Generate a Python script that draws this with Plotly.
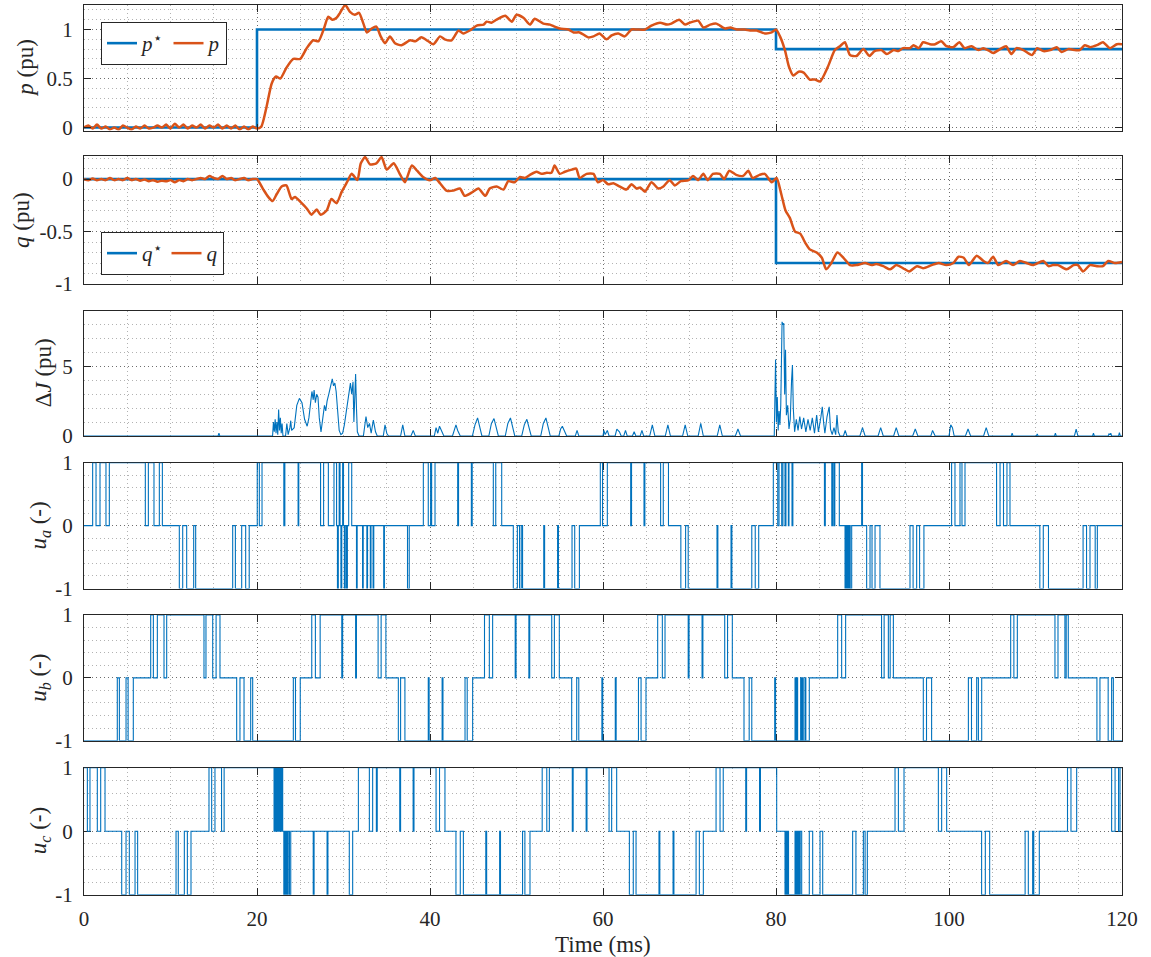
import plotly.graph_objects as go

FONT = "Liberation Serif, DejaVu Serif, serif"
BLUE = "#0072BD"
ORANGE = "#D95319"
AX = "#262626"

# ---------------- data ----------------
x_tickvals = [0, 20, 40, 60, 80, 100, 120]
x_ticktext = ["0", "20", "40", "60", "80", "100", "120"]

pref_t = [0, 20, 80, 120]
pref_v = [0, 1, 0.8, 0.8]
qref_t = [0, 80, 120]
qref_v = [0, -0.8, -0.8]

p_t = [0, 0.5, 1.0, 1.5, 2.0, 2.5, 3.0, 3.5, 4.0, 4.5, 5.0, 5.5, 6.0, 6.5, 7.0, 7.5, 8.0, 8.5, 9.0, 9.5,
       10.0, 10.5, 11.0, 11.5, 12.0, 12.5, 13.0, 13.5, 14.0, 14.5, 15.0, 15.5, 16.0, 16.5, 17.0, 17.5, 18.0,
       18.5, 19.0, 19.5, 20.0, 20.5, 21.1, 21.7, 22.2, 22.7, 23.4, 24.2, 25.0, 25.75, 26.5, 27.1, 27.7, 28.24,
       28.7, 29.2, 29.6, 30.2, 30.75, 31.3, 31.8, 32.3, 32.7, 33.26, 33.8, 34.3, 34.8, 35.37, 35.95, 36.7,
       37.7, 38.3, 39.0, 39.8, 40.4, 41.16, 41.7, 42.5, 43.3, 43.85, 44.6, 45.4, 46.2, 46.55, 47.1, 47.7,
       48.7, 49.45, 50.0, 50.8, 51.56, 52.1, 53.1, 53.87, 54.4, 55.0, 56.0, 56.6, 57.3, 58.3, 58.9, 59.6,
       60.4, 61.0, 61.77, 62.5, 63.3, 63.9, 64.85, 65.6, 66.6, 67.4, 67.9, 68.8, 69.5, 70.05, 71.0, 71.6,
       72.4, 73.1, 74.1, 74.7, 75.5, 76.4, 77.0, 77.77, 78.7, 79.5, 80.0, 80.46, 81.03, 81.5, 82.0, 82.6,
       83.2, 83.9, 84.5, 85.1, 86.0, 86.8, 87.4, 87.97, 88.55, 89.3, 90.1, 90.8, 91.4, 92.2, 92.8, 93.6,
       94.15, 94.7, 95.5, 95.9, 96.5, 97.0, 97.8, 98.4, 99.1, 99.7, 100.5, 101.2, 101.8, 102.6, 103.4,
       103.97, 104.5, 105.1, 105.9, 106.6, 107.2, 107.8, 108.6, 109.6, 110.2, 110.9, 111.7, 112.45, 113.0,
       113.8, 114.6, 115.1, 115.7, 116.3, 117.1, 117.8, 118.6, 119.4, 120]
p_v = [0.0, 0.02, -0.01, 0.03, -0.01, 0.01, -0.02, 0.0, -0.02, 0.02, 0.0, -0.02, 0.01, -0.01, 0.02, -0.01,
       0.0, 0.02, 0.0, 0.03, -0.01, 0.04, 0.0, 0.03, -0.01, 0.02, 0.0, 0.03, -0.01, 0.02, 0.0, 0.03, -0.01,
       0.02, -0.01, 0.02, -0.02, 0.01, -0.02, 0.01, -0.01, 0.01, 0.21, 0.45, 0.52, 0.5, 0.61, 0.70, 0.70,
       0.81, 0.89, 0.88, 1.0, 1.13, 1.1, 1.12, 1.17, 1.25, 1.18, 1.15, 1.17, 1.06, 0.97, 1.01, 1.03, 0.93,
       0.86, 0.93, 0.86, 0.84, 0.89, 0.88, 0.92, 0.88, 0.85, 0.93, 0.90, 0.89, 0.99, 0.96, 0.99, 1.04, 1.05,
       1.08, 1.07, 1.10, 1.14, 1.08, 1.15, 1.12, 1.05, 1.11, 1.06, 1.05, 1.03, 1.01, 1.0, 0.97, 0.97, 0.92,
       0.93, 0.96, 0.90, 0.94, 0.96, 0.93, 1.0, 1.0, 1.0, 1.04, 1.07, 1.05, 1.06, 1.1, 1.05, 1.07, 1.09,
       1.02, 1.05, 1.06, 1.01, 1.02, 1.0, 1.0, 0.99, 0.99, 0.96, 0.97, 1.0, 0.93, 0.79, 0.62, 0.53, 0.57,
       0.56, 0.49, 0.49, 0.47, 0.62, 0.79, 0.83, 0.87, 0.74, 0.73, 0.80, 0.73, 0.78, 0.79, 0.75, 0.79, 0.78,
       0.81, 0.81, 0.84, 0.81, 0.87, 0.85, 0.85, 0.88, 0.83, 0.82, 0.87, 0.81, 0.83, 0.79, 0.81, 0.79, 0.76,
       0.80, 0.83, 0.75, 0.81, 0.79, 0.74, 0.81, 0.78, 0.79, 0.82, 0.77, 0.80, 0.79, 0.79, 0.84, 0.82, 0.84,
       0.87, 0.81, 0.85, 0.85]

q_t = [0, 0.5, 1, 1.5, 2, 2.5, 3, 3.5, 4, 4.5, 5, 5.5, 6, 6.5, 7, 7.5, 8, 8.5, 9, 9.5, 10, 10.5, 11, 11.5,
       12, 12.5, 13, 13.5, 14, 14.5, 15, 15.5, 16, 16.5, 17, 17.5, 18, 18.5, 19, 19.5, 20, 20.74, 21.3,
       21.8, 22.3, 22.85, 23.4, 24.0, 24.4, 25.05, 25.75, 26.3, 26.9, 27.36, 28.05, 28.6, 29.2, 29.8, 30.4,
       30.95, 31.6, 32.0, 32.5, 33.06, 33.8, 34.4, 35.0, 35.8, 36.5, 37.1, 37.9, 38.5, 39.2, 40.0, 40.6,
       41.16, 41.9, 42.7, 43.46, 44.0, 44.8, 45.6, 46.4, 46.9, 47.7, 48.5, 49.05, 49.8, 50.4, 50.98, 51.56,
       52.3, 52.9, 53.5, 54.05, 54.4, 55.0, 55.6, 56.4, 56.9, 57.3, 58.1, 58.9, 59.4, 60.0, 60.6, 61.2,
       61.9, 62.7, 63.3, 63.9, 64.3, 64.85, 65.6, 66.4, 66.98, 67.7, 68.3, 69.0, 69.9, 70.4, 71.0, 71.6,
       72.1, 72.7, 73.5, 74.0, 74.6, 75.4, 76.2, 76.8, 77.3, 78.1, 78.7, 79.5, 80.07, 80.6, 81.1, 81.6,
       82.2, 82.8, 83.4, 83.9, 84.7, 85.3, 85.8, 86.4, 87.1, 87.8, 88.55, 89.3, 90.3, 91.06, 91.6, 92.4,
       93.2, 93.9, 94.7, 95.4, 96.3, 97.0, 98.0, 98.8, 99.7, 100.5, 101.1, 101.7, 102.3, 103.2, 103.97,
       104.5, 105.1, 105.7, 106.6, 107.4, 108.2, 108.97, 109.7, 110.9, 111.5, 112.0, 112.6, 113.6, 114.4,
       114.9, 115.5, 116.3, 117.1, 117.8, 118.4, 119.2, 120]
q_v = [0, -0.01, 0.005, -0.01, 0.0, -0.01, 0.01, -0.01, 0.0, -0.01, 0.01, -0.01, 0.0, -0.015, -0.005,
       -0.02, -0.01, -0.025, -0.015, -0.02, -0.01, -0.03, -0.01, -0.02, 0.0, -0.01, 0.0, 0.01, 0.0, 0.03,
       0.01, 0.0, 0.03, 0.0, 0.01, -0.01, 0.0, 0.01, -0.01, 0.0, 0.0, -0.10, -0.17, -0.21, -0.14, -0.07,
       -0.06, -0.19, -0.17, -0.22, -0.28, -0.34, -0.29, -0.34, -0.30, -0.19, -0.23, -0.12, -0.03, 0.05,
       -0.01, 0.15, 0.21, 0.14, 0.15, 0.21, 0.09, 0.15, 0.05, -0.03, 0.13, 0.08, 0.02, -0.01, 0.01, -0.04,
       -0.11, -0.11, -0.09, -0.16, -0.13, -0.09, -0.16, -0.09, -0.07, -0.10, -0.02, -0.03, 0.02, 0.01,
       0.04, 0.07, 0.05, 0.06, 0.06, 0.13, 0.05, 0.07, 0.09, 0.10, 0.01, 0.05, 0.05, -0.03, -0.01, -0.05,
       -0.04, -0.07, -0.10, -0.05, -0.09, -0.08, -0.12, -0.03, -0.09, -0.07, -0.01, -0.06, -0.02, -0.01,
       0.03, -0.01, 0.05, -0.01, 0.05, 0.05, 0.0, 0.08, 0.04, 0.03, 0.08, 0.01, 0.04, 0.05, -0.03, 0.01,
       -0.14, -0.30, -0.37, -0.50, -0.52, -0.61, -0.67, -0.70, -0.75, -0.86, -0.80, -0.70, -0.75, -0.82,
       -0.82, -0.80, -0.82, -0.81, -0.83, -0.86, -0.82, -0.85, -0.88, -0.83, -0.85, -0.82, -0.80, -0.82,
       -0.80, -0.74, -0.75, -0.82, -0.73, -0.78, -0.80, -0.74, -0.82, -0.78, -0.82, -0.78, -0.80, -0.82,
       -0.78, -0.83, -0.82, -0.82, -0.86, -0.82, -0.82, -0.88, -0.82, -0.83, -0.83, -0.78, -0.80, -0.79]

# Delta J (time, value) samples
dJ = [(0, 0), (15.5, 0), (15.6, 0.2), (15.7, 0), (21.8, 0),
      (21.9, 1.0), (22.0, 0.3), (22.1, 1.2), (22.2, 0.2), (22.3, 1.0), (22.4, 0.1), (22.5, 1.9), (22.6, 0.4),
      (22.7, 1.3), (22.8, 0.2), (22.9, 0.9), (23.0, 0.0), (23.3, 0), (23.45, 0.9), (23.6, 0.1), (23.8, 0.6),
      (23.9, 1.1), (24.0, 0.4), (24.3, 0.6), (24.6, 2.2), (24.9, 2.7), (25.2, 2.4), (25.5, 1.2), (25.8, 0.7),
      (26.0, 1.3), (26.2, 2.4), (26.35, 3.2), (26.5, 2.6), (26.6, 3.3), (26.75, 2.4), (26.9, 3.0), (27.05, 2.8),
      (27.2, 1.3), (27.4, 0.3), (27.6, 1.5), (27.8, 2.2), (27.95, 1.8), (28.1, 2.5), (28.3, 3.0), (28.5, 3.5),
      (28.7, 4.1), (28.85, 3.6), (29.0, 3.8), (29.15, 3.2), (29.3, 1.8), (29.5, 0.4), (29.7, 0.1), (29.9, 0.2),
      (30.1, 0.8), (30.4, 2.2), (30.6, 3.2), (30.8, 3.8), (30.95, 3.0), (31.1, 3.9), (31.2, 1.0), (31.3, 3.5),
      (31.4, 4.45), (31.5, 2.0), (31.6, 0.3), (31.8, 0.0), (32.3, 0), (32.6, 1.4), (32.8, 0.6), (33.0, 0.9),
      (33.2, 0.2), (33.45, 1.15), (33.7, 0.3), (33.9, 0.0), (34.6, 0.0), (34.8, 0.8), (35.0, 0.2), (35.2, 0),
      (36.6, 0), (36.85, 0.8), (37.1, 0), (37.8, 0), (38.06, 0.4), (38.3, 0), (40.5, 0), (40.7, 0.6),
      (40.9, 0.2), (41.1, 0.7), (41.4, 0.3), (41.6, 0), (42.6, 0), (43.0, 0.8), (43.2, 0.4), (43.5, 0),
      (44.9, 0), (45.2, 0.8), (45.5, 1.3), (45.8, 0.5), (46.0, 0), (46.8, 0), (47.1, 0.9), (47.4, 1.25),
      (47.7, 0.4), (47.9, 0), (48.7, 0), (49.0, 0.9), (49.3, 1.3), (49.6, 0.4), (49.8, 0), (50.6, 0),
      (50.9, 0.8), (51.2, 1.2), (51.5, 0.5), (51.7, 0), (52.8, 0), (53.1, 0.9), (53.4, 1.3), (53.7, 0.4),
      (53.9, 0), (54.9, 0), (55.1, 0.5), (55.3, 0.7), (55.6, 0.2), (55.8, 0), (56.8, 0), (57.0, 0.4),
      (57.2, 0), (60.0, 0), (60.1, 0.4), (60.25, 0.1), (60.5, 0.4), (60.7, 0), (61.4, 0), (61.6, 0.5),
      (61.9, 0.3), (62.1, 0), (62.4, 0), (62.6, 0.4), (62.8, 0), (63.4, 0), (63.6, 0.3), (63.8, 0),
      (64.3, 0), (64.5, 0.4), (64.7, 0), (65.4, 0), (65.7, 0.8), (66.0, 0), (67.2, 0), (67.5, 0.8),
      (67.8, 0), (69.2, 0), (69.5, 0.8), (69.8, 0), (71.0, 0), (71.3, 0.9), (71.6, 0), (73.2, 0),
      (73.5, 0.8), (73.8, 0), (75.3, 0), (75.6, 0.5), (75.9, 0), (79.8, 0), (79.95, 5.5), (80.05, 1.0),
      (80.15, 2.8), (80.25, 0.4), (80.35, 1.8), (80.45, 0.8), (80.55, 2.2), (80.7, 8.2), (80.8, 8.0),
      (80.9, 8.1), (81.0, 3.0), (81.1, 6.2), (81.2, 1.5), (81.35, 2.2), (81.5, 0.5), (81.65, 1.2),
      (81.8, 4.0), (81.9, 5.1), (82.0, 2.0), (82.15, 0.3), (82.35, 1.2), (82.55, 0.4), (82.75, 1.4),
      (82.95, 0.5), (83.2, 1.3), (83.45, 0.3), (83.7, 1.2), (83.95, 0.4), (84.2, 1.3), (84.45, 0.2),
      (84.7, 1.5), (84.9, 0.3), (85.2, 1.4), (85.35, 2.1), (85.5, 1.0), (85.65, 0.2), (85.9, 1.4),
      (86.15, 2.1), (86.3, 0.5), (86.5, 0.1), (86.7, 0.6), (86.9, 0.1), (87.05, 1.5), (87.2, 0.3),
      (87.4, 0.0), (87.8, 0), (88.0, 0.4), (88.2, 0), (89.7, 0),
      (90.0, 0.6), (90.3, 0), (91.8, 0), (92.1, 0.6), (92.4, 0), (93.6, 0), (93.9, 0.6), (94.2, 0),
      (95.8, 0), (96.1, 0.5), (96.4, 0), (97.9, 0), (98.1, 0.4), (98.4, 0), (100.0, 0), (100.2, 0.8),
      (100.4, 0.6), (100.6, 0), (101.9, 0), (102.2, 0.5), (102.5, 0), (104.0, 0), (104.3, 0.6), (104.6, 0),
      (107.2, 0), (107.3, 0.2), (107.4, 0), (110.1, 0), (110.2, 0.15), (110.3, 0), (112.2, 0), (112.3, 0.2),
      (112.4, 0), (114.5, 0), (114.7, 0.5), (114.9, 0), (116.6, 0), (116.7, 0.2), (116.8, 0), (118.4, 0),
      (118.5, 0.15), (118.6, 0.1), (118.7, 0.2), (118.8, 0), (119.6, 0), (119.7, 0.25), (119.8, 0), (120, 0)]

# switching states: (time at which level starts, level)
u_a = [(0, 0), (1.0, 1), (1.39, 0), (1.85, 1), (2.54, 0), (2.93, 1), (7.09, 0), (7.44, 1), (8.09, 0),
       (8.71, 1), (9.06, 0), (11.02, -1), (11.41, 0), (11.87, -1), (12.68, 0), (12.91, -1), (17.19, 0),
       (17.5, -1), (18.23, 0), (18.69, -1), (19.1, 0), (20.03, 1), (20.27, 0), (20.58, 1), (23.1, 0),
       (23.22, 1), (24.75, 0), (24.83, 1), (27.35, 0), (27.7, 1), (28.25, 0), (28.9, 1), (29.2, 0),
       (29.3, -1), (29.4, 0), (29.5, 1), (29.6, 0), (29.7, -1), (29.8, 0), (29.9, 1), (30.0, 0), (30.1, -1),
       (30.2, 0), (30.35, -1), (30.45, 0), (30.6, 1), (30.95, 0), (31.5, -1), (31.58, 0), (32.2, -1),
       (32.28, 0), (32.7, -1), (32.78, 0), (33.1, -1), (33.18, 0), (33.42, -1), (33.5, 0), (34.65, -1),
       (34.73, 0), (37.4, -1), (37.6, 0), (39.23, 1), (39.8, 0), (40.07, 1), (40.19, 0), (40.58, 1),
       (43.2, 0), (43.3, 1), (44.78, 0), (44.88, 1), (47.32, 0), (47.6, 1), (48.29, 0), (49.63, -1),
       (50.1, 0), (50.35, -1), (50.55, 0), (50.7, -1), (53.15, 0), (53.25, -1), (54.75, 0), (54.85, -1),
       (56.42, 0), (56.73, -1), (57.27, 0), (59.69, 1), (59.95, 0), (60.5, 1), (63.2, 0), (63.3, 1),
       (64.74, 0), (64.84, 1), (66.66, 0), (66.97, 1), (67.57, 0), (69.0, -1), (69.55, 0), (69.85, -1),
       (73.18, 0), (73.28, -1), (74.8, 0), (74.9, -1), (77.2, 0), (77.6, -1), (78.0, 0), (79.69, 1),
       (80.2, 0), (80.35, 1), (80.66, 0), (80.8, 1), (81.04, 0), (81.15, 1), (81.43, 0), (81.5, 1),
       (81.85, 0), (81.95, 1), (85.6, 0), (85.7, 1), (86.45, 0), (86.55, 1), (86.7, 0), (86.8, 1),
       (87.32, 0), (87.98, -1), (88.08, 0), (88.18, -1), (88.28, 0), (88.38, -1), (88.48, 0), (88.58, -1),
       (88.75, 0), (89.9, 1), (90.0, 0), (90.48, -1), (90.87, 0), (91.1, -1), (91.45, 0), (92.02, -1),
       (95.49, 0), (95.85, -1), (96.26, 0), (96.6, -1), (97.1, 0), (100.3, 1), (100.69, 0), (101.27, 1),
       (101.5, 0), (101.85, 1), (105.5, 0), (105.9, 1), (106.3, 0), (106.7, 1), (107.05, 0), (110.5, -1),
       (110.9, 0), (111.5, -1), (115.5, 0), (115.9, -1), (116.3, 0), (116.9, -1), (117.15, 0), (120, 0)]

u_b = [(0, -1), (3.85, 0), (4.09, -1), (4.86, 0), (5.1, -1), (5.7, 0), (7.71, 1), (8.02, 0), (8.48, 1),
       (9.25, 0), (9.56, 1), (13.87, 0), (14.1, 1), (14.88, 0), (15.27, 1), (15.72, 0), (17.65, -1),
       (18.03, 0), (18.5, -1), (19.27, 0), (19.5, -1), (24.2, 0), (24.45, -1), (25.0, 0), (26.33, 1),
       (26.75, 0), (27.3, 1), (29.8, 0), (29.9, 1), (31.4, 0), (31.5, 1), (34.0, 0), (34.35, 1), (34.9, 0),
       (36.34, -1), (36.6, 0), (37.1, -1), (39.8, 0), (39.9, -1), (41.4, 0), (41.5, -1), (44.05, 0),
       (44.3, -1), (44.93, 0), (46.3, 1), (46.86, 0), (47.24, 1), (49.85, 0), (49.95, 1), (51.43, 0),
       (51.53, 1), (54.07, 0), (54.38, 1), (54.95, 0), (56.38, -1), (56.96, 0), (57.2, -1), (59.87, 0),
       (59.97, -1), (61.42, 0), (61.52, -1), (64.1, 0), (64.4, -1), (64.97, 0), (66.32, 1), (66.86, 0),
       (67.17, 1), (69.85, 0), (69.95, 1), (71.45, 0), (71.55, 1), (74.07, 0), (74.4, 1), (74.95, 0),
       (76.3, -1), (76.9, 0), (77.2, -1), (79.85, 0), (79.95, -1), (82.2, 0), (82.3, -1), (82.4, 0),
       (82.5, -1), (82.85, 0), (82.95, -1), (83.05, 0), (83.15, -1), (83.35, 0), (83.45, -1), (83.85, 0),
       (87.13, 1), (87.59, 0), (88.05, 1), (92.2, 0), (92.5, 1), (92.99, 0), (93.2, 1), (93.57, 0),
       (97.03, -1), (97.4, 0), (97.99, -1), (102.24, 0), (102.6, -1), (103.2, 0), (103.4, -1), (103.78, 0),
       (107.13, 1), (107.5, 0), (107.9, 1), (112.25, 0), (112.6, 1), (113.4, 0), (113.55, 1), (113.79, 0),
       (117.1, -1), (117.45, 0), (118.4, -1), (118.8, 0), (119.0, -1), (120, -1)]

u_c = [(0, 1), (0.39, 0), (0.69, 1), (1.54, 0), (1.93, 1), (2.43, 0), (4.36, -1), (4.86, 0), (5.24, -1),
       (5.9, 0), (6.2, -1), (10.64, 0), (10.9, -1), (11.6, 0), (11.95, -1), (12.37, 0), (14.45, 1),
       (14.76, 0), (15.14, 1), (15.9, 0), (16.2, 1), (21.97, 0), (22.05, 1), (22.13, 0), (22.21, 1),
       (22.29, 0), (22.37, 1), (22.45, 0), (22.53, 1), (22.61, 0), (22.69, 1), (22.77, 0), (22.85, 1),
       (22.97, 0), (23.1, -1), (23.2, 0), (23.3, -1), (23.4, 0), (23.5, -1), (23.6, 0), (23.75, -1),
       (23.9, 0), (26.5, -1), (26.6, 0), (28.1, -1), (28.2, 0), (30.67, -1), (31.06, 0), (31.72, 1),
       (32.99, 0), (33.37, 1), (33.8, 0), (33.9, 1), (36.5, 0), (36.6, 1), (38.05, 0), (38.15, 1),
       (40.7, 0), (41.1, 1), (41.73, 0), (43.0, -1), (43.5, 0), (43.86, -1), (46.45, 0), (46.55, -1),
       (48.05, 0), (48.15, -1), (50.7, 0), (50.97, -1), (51.56, 0), (52.97, 1), (53.5, 0), (53.8, 1),
       (56.45, 0), (56.55, 1), (58.05, 0), (58.15, 1), (60.7, 0), (61.0, 1), (61.58, 0), (63.05, -1),
       (63.5, 0), (63.82, -1), (66.47, 0), (66.57, -1), (68.1, 0), (68.2, -1), (70.76, 0), (71.14, -1),
       (71.6, 0), (73.07, 1), (73.53, 0), (73.9, 1), (76.5, 0), (76.6, 1), (78.1, 0), (78.2, 1), (80.08, 0),
       (81.04, -1), (81.15, 0), (81.25, -1), (81.35, 0), (81.45, -1), (82.2, 0), (82.3, -1), (82.4, 0),
       (82.5, -1), (82.6, 0), (82.7, -1), (82.8, 0), (82.97, -1), (83.85, 0), (84.24, -1), (85.09, 0),
       (85.4, -1), (88.86, 0), (89.24, -1), (90.1, 0), (90.3, -1), (90.56, 0), (93.76, 1), (94.15, 0),
       (94.8, 1), (98.77, 0), (99.15, 1), (99.73, 0), (103.77, -1), (104.2, 0), (104.7, -1), (108.8, 0),
       (109.17, -1), (109.67, 0), (109.8, -1), (110.44, 0), (113.7, 1), (114.1, 0), (114.76, 1),
       (118.8, 0), (119.2, 1), (119.6, 0), (119.77, 1), (120, 1)]

# ---------------- figure ----------------
W, H = 1151, 957
X0, X1 = 84, 1122
rows_px = [(5, 130.5), (156, 284), (310.7, 436), (462.7, 588.5), (615, 740.7), (767.7, 894.7)]

fig = go.Figure()

fig.add_trace(go.Scatter(x=pref_t, y=pref_v, mode="lines", line=dict(color=BLUE, width=2.6, shape="hv"),
                         name="<i>p</i><sup>⋆</sup>", xaxis="x", yaxis="y", legend="legend"))
fig.add_trace(go.Scatter(x=p_t, y=p_v, mode="lines", line=dict(color=ORANGE, width=2.5, shape="spline", smoothing=0.6),
                         name="<i>p</i>", xaxis="x", yaxis="y", legend="legend"))
fig.add_trace(go.Scatter(x=qref_t, y=qref_v, mode="lines", line=dict(color=BLUE, width=2.6, shape="hv"),
                         name="<i>q</i><sup>⋆</sup>", xaxis="x2", yaxis="y2", legend="legend2"))
fig.add_trace(go.Scatter(x=q_t, y=q_v, mode="lines", line=dict(color=ORANGE, width=2.5, shape="spline", smoothing=0.6),
                         name="<i>q</i>", xaxis="x2", yaxis="y2", legend="legend2"))
fig.add_trace(go.Scatter(x=[a for a, b in dJ], y=[b for a, b in dJ], mode="lines",
                         line=dict(color=BLUE, width=1.1), showlegend=False, xaxis="x3", yaxis="y3"))
for k, u in enumerate([u_a, u_b, u_c]):
    i = 4 + k
    fig.add_trace(go.Scatter(x=[a for a, b in u], y=[b for a, b in u], mode="lines",
                             line=dict(color=BLUE, width=1.1, shape="hv"), showlegend=False,
                             xaxis=f"x{i}", yaxis=f"y{i}"))

tickfont = dict(family=FONT, size=21, color=AX)
DOT = "1px,3px"
grid_major = "rgba(0,0,0,0.38)"
grid_minor = "rgba(0,0,0,0.30)"

y_specs = [
    dict(range=[-0.03, 1.25], tickvals=[0, 0.5, 1], ticktext=["0", "0.5", "1"], minor_dtick=0.1),
    dict(range=[-1, 0.22], tickvals=[-1, -0.5, 0], ticktext=["-1", "-0.5", "0"], minor_dtick=0.1),
    dict(range=[0, 9], tickvals=[0, 5], ticktext=["0", "5"], minor_dtick=1),
    dict(range=[-1, 1], tickvals=[-1, 0, 1], ticktext=["-1", "0", "1"], minor_dtick=0.2),
    dict(range=[-1, 1], tickvals=[-1, 0, 1], ticktext=["-1", "0", "1"], minor_dtick=0.2),
    dict(range=[-1, 1], tickvals=[-1, 0, 1], ticktext=["-1", "0", "1"], minor_dtick=0.2),
]

layout = dict(width=W, height=H, margin=dict(l=0, r=0, t=0, b=0, autoexpand=False),
              paper_bgcolor="white", plot_bgcolor="white", font=dict(family=FONT, color=AX))

for i in range(1, 7):
    top, bot = rows_px[i - 1]
    ys = y_specs[i - 1]
    layer = "above traces" if i <= 2 else "below traces"
    sfx = "" if i == 1 else str(i)
    xa = dict(domain=[X0 / W, X1 / W], range=[0, 120], anchor="y" + sfx,
              tickmode="array", tickvals=x_tickvals, ticktext=x_ticktext,
              showticklabels=(i == 6), tickfont=tickfont, ticks="inside", ticklen=7, tickwidth=1,
              tickcolor=AX, showline=True, linecolor=AX, linewidth=1, mirror="ticks",
              showgrid=True, gridcolor=grid_major, griddash=DOT, gridwidth=1, zeroline=False,
              minor=dict(dtick=5, tick0=0, showgrid=True, gridcolor=grid_minor, griddash=DOT, ticklen=0),
              layer=layer, ticklabelstandoff=5, automargin=False)
    if i > 1:
        xa["matches"] = "x"
    ya = dict(domain=[1 - bot / H, 1 - top / H], range=ys["range"], anchor="x" + sfx,
              tickmode="array", tickvals=ys["tickvals"], ticktext=ys["ticktext"], tickfont=tickfont,
              ticks="inside", ticklen=7, tickwidth=1, tickcolor=AX, showline=True, linecolor=AX,
              linewidth=1, mirror="ticks", showgrid=True, gridcolor=grid_major, griddash=DOT,
              gridwidth=1, zeroline=False,
              minor=dict(dtick=ys["minor_dtick"], tick0=0, showgrid=True, gridcolor=grid_minor,
                         griddash=DOT, ticklen=0),
              layer=layer, ticklabelstandoff=6, automargin=False)
    layout["xaxis" + sfx] = xa
    layout["yaxis" + sfx] = ya

leg_common = dict(orientation="h", xanchor="left", yanchor="top", bgcolor="white",
                  bordercolor=AX, borderwidth=1, font=dict(family=FONT, size=21, color=AX),
                  itemwidth=30, tracegroupgap=0)
layout["legend"] = dict(x=101 / W, y=1 - 22 / H, **leg_common)
layout["legend2"] = dict(x=101 / W, y=1 - 232 / H, **leg_common)

ylabels = [("<i>p</i> (pu)", 26), ("<i>q</i> (pu)", 22), ("Δ<i>J</i> (pu)", 43),
           ("<i>u<sub>a</sub></i> (-)", 40), ("<i>u<sub>b</sub></i> (-)", 40), ("<i>u<sub>c</sub></i> (-)", 40)]
ann = []
for (txt, xc), (top, bot) in zip(ylabels, rows_px):
    ann.append(dict(text=txt, x=xc / W, y=1 - (top + bot) / 2 / H, xref="paper", yref="paper",
                    xanchor="center", yanchor="middle", textangle=-90, showarrow=False,
                    font=dict(family=FONT, size=23, color=AX)))
ann.append(dict(text="Time (ms)", x=(X0 + X1) / 2 / W, y=1 - 944 / H, xref="paper", yref="paper",
                xanchor="center", yanchor="middle", showarrow=False,
                font=dict(family=FONT, size=23, color=AX)))
layout["annotations"] = ann

fig.update_layout(**layout)
fig.write_html("out.html", config={"displayModeBar": False},
               post_script="document.body.style.margin='0';document.body.style.overflow='hidden';")
